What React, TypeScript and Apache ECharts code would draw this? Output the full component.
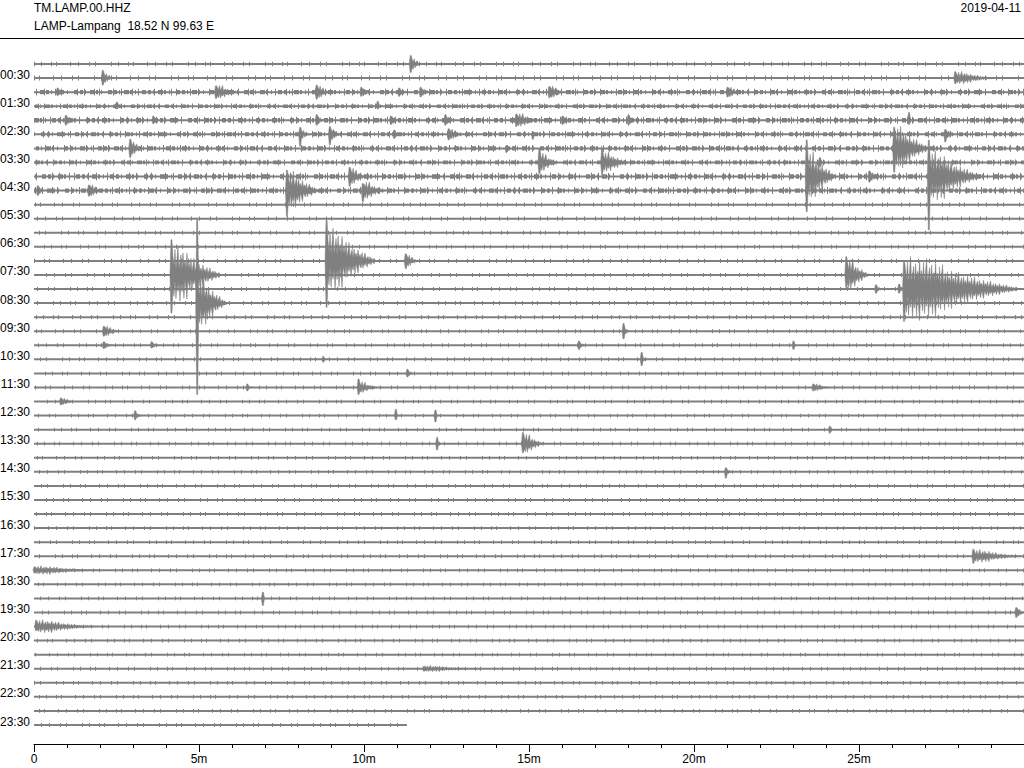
import { useEffect, useRef } from 'react';
import * as echarts from 'echarts';

// ---- Texts ----
const stationCode = 'TM.LAMP.00.HHZ';
const stationName = 'LAMP-Lampang  18.52 N 99.63 E';
const dayLabel = '2019-04-11';

// ---- Axes ----
const totalMinutes = 30;
const xTickStep = 5;
const lastRowEnd = 11.3; // the 23:30 trace stops here (minutes)
const hourLabels = [
  '00:30', '01:30', '02:30', '03:30', '04:30', '05:30', '06:30', '07:30',
  '08:30', '09:30', '10:30', '11:30', '12:30', '13:30', '14:30', '15:30',
  '16:30', '17:30', '18:30', '19:30', '20:30', '21:30', '22:30', '23:30',
];

// ---- Background noise level of each 30-minute row (in row-spacing units) ----
const rowNoise = [
  0.17, 0.2, 0.26, 0.22, 0.28, 0.26, 0.27, 0.24, 0.3, 0.28,
  0.17, 0.17, 0.16, 0.16, 0.17, 0.16, 0.16, 0.16, 0.16, 0.16,
  0.16, 0.16, 0.16, 0.16, 0.15, 0.15, 0.15, 0.15, 0.15, 0.15,
  0.15, 0.15, 0.16, 0.15, 0.15, 0.15, 0.15, 0.15, 0.15, 0.15,
  0.15, 0.15, 0.15, 0.16, 0.15, 0.15, 0.15, 0.15,
];

// ---- Events: [row, start (min), duration (min), spike up, spike down, body amplitude] ----
const events: number[][] = [
  [0, 11.4, 0.35, 0.6, 0.6, 0.35],
  [1, 2.07, 0.35, 0.55, 0.5, 0.3],
  [1, 27.9, 1.2, 0.45, 0.4, 0.3],
  [2, 0.7, 0.25, 0.3, 0.25, 0.2],
  [2, 5.5, 0.7, 0.45, 0.45, 0.35],
  [2, 8.55, 0.45, 0.5, 0.5, 0.35],
  [2, 9.9, 0.3, 0.35, 0.3, 0.25],
  [2, 11.05, 0.25, 0.3, 0.3, 0.2],
  [2, 11.7, 0.3, 0.35, 0.35, 0.25],
  [2, 15.6, 0.45, 0.4, 0.4, 0.35],
  [2, 21.0, 0.4, 0.35, 0.35, 0.3],
  [3, 2.5, 0.15, 0.3, 0.2, 0.15],
  [3, 10.4, 0.15, 0.35, 0.2, 0.15],
  [4, 0.95, 0.3, 0.35, 0.35, 0.25],
  [4, 3.6, 0.2, 0.3, 0.25, 0.2],
  [4, 8.55, 0.25, 0.4, 0.35, 0.25],
  [4, 10.8, 0.25, 0.3, 0.3, 0.25],
  [4, 12.45, 0.3, 0.4, 0.35, 0.25],
  [4, 14.6, 0.7, 0.45, 0.45, 0.35],
  [4, 16.0, 0.25, 0.3, 0.3, 0.25],
  [4, 18.0, 0.25, 0.4, 0.35, 0.25],
  [4, 26.5, 0.1, 0.55, 0.3, 0.2],
  [5, 8.05, 0.3, 0.5, 0.85, 0.3],
  [5, 8.95, 0.35, 0.55, 0.75, 0.35],
  [5, 10.9, 0.2, 0.3, 0.3, 0.2],
  [5, 12.55, 0.45, 0.4, 0.4, 0.3],
  [5, 15.1, 0.1, 0.2, 0.35, 0.15],
  [5, 27.6, 0.3, 0.35, 0.55, 0.25],
  [6, 2.9, 0.4, 0.65, 0.65, 0.4],
  [6, 14.3, 0.1, 0.2, 0.3, 0.15],
  [6, 26.05, 1.1, 1.5, 1.7, 1.0],
  [7, 15.3, 0.55, 0.95, 0.8, 0.5],
  [7, 17.2, 0.85, 0.95, 0.85, 0.5],
  [7, 23.8, 0.15, 0.35, 0.35, 0.2],
  [8, 9.55, 0.5, 0.65, 0.7, 0.45],
  [8, 23.4, 0.9, 2.6, 2.5, 1.15],
  [8, 25.3, 0.3, 0.4, 0.4, 0.3],
  [8, 27.1, 1.6, 2.6, 3.8, 1.15],
  [9, 0.1, 0.2, 0.35, 0.35, 0.3],
  [9, 1.65, 0.4, 0.4, 0.4, 0.35],
  [9, 7.65, 1.0, 1.45, 1.85, 0.9],
  [9, 9.95, 0.7, 0.5, 0.8, 0.45],
  [14, 8.85, 1.5, 2.9, 3.3, 1.45],
  [14, 11.25, 0.4, 0.5, 0.55, 0.35],
  [15, 4.15, 1.5, 2.5, 2.7, 1.3],
  [15, 24.6, 0.7, 1.3, 0.9, 0.8],
  [16, 25.5, 0.2, 0.3, 0.3, 0.2],
  [16, 26.2, 0.15, 0.35, 0.3, 0.2],
  [16, 26.35, 3.4, 2.0, 2.3, 1.4],
  [17, 4.93, 0.9, 5.9, 6.5, 1.2],
  [19, 2.1, 0.45, 0.35, 0.35, 0.3],
  [19, 17.85, 0.2, 0.55, 0.55, 0.25],
  [20, 2.1, 0.25, 0.25, 0.25, 0.2],
  [20, 3.55, 0.2, 0.25, 0.2, 0.2],
  [20, 16.5, 0.2, 0.3, 0.3, 0.2],
  [20, 23.0, 0.1, 0.3, 0.3, 0.15],
  [21, 8.75, 0.1, 0.2, 0.2, 0.15],
  [21, 18.4, 0.15, 0.5, 0.45, 0.2],
  [22, 11.3, 0.2, 0.3, 0.25, 0.2],
  [23, 6.45, 0.15, 0.25, 0.25, 0.15],
  [23, 9.82, 0.6, 0.6, 0.5, 0.3],
  [23, 23.6, 0.5, 0.25, 0.25, 0.2],
  [24, 0.8, 0.4, 0.25, 0.25, 0.2],
  [25, 3.05, 0.2, 0.35, 0.3, 0.2],
  [25, 10.95, 0.1, 0.45, 0.3, 0.15],
  [25, 12.15, 0.1, 0.4, 0.45, 0.15],
  [26, 24.1, 0.1, 0.25, 0.25, 0.15],
  [27, 12.2, 0.1, 0.45, 0.45, 0.15],
  [27, 14.8, 0.65, 0.8, 0.65, 0.5],
  [29, 20.95, 0.2, 0.3, 0.45, 0.2],
  [35, 28.45, 1.45, 0.5, 0.5, 0.3],
  [36, 0.0, 1.9, 0.25, 0.2, 0.2],
  [38, 6.92, 0.1, 0.45, 0.5, 0.15],
  [39, 29.75, 0.25, 0.35, 0.35, 0.3],
  [40, 0.05, 1.8, 0.45, 0.3, 0.3],
  [43, 11.8, 1.6, 0.18, 0.18, 0.15],
];

// ---- Styling ----
const traceColor = '#808080';
const fontFamily = '"Liberation Sans", Arial, sans-serif';
const envShape = [[0, 1], [0.25, 0.9], [0.45, 0.55], [0.7, 0.3], [1, 0.06]];
const jag = [1, 0.5, 1.45, 0.35, 0.9, 1.7, 0.4, 0.75, 1.2, 0.3, 1.35, 0.6, 0.95, 0.45, 1.55, 0.55];
const speckDash = [1, 6, 1, 9, 1, 4, 1, 13, 1, 7, 1, 10, 1, 5, 1, 15];
const bandDash = [3, 2, 1, 4, 5, 1, 2, 3, 1, 6, 4, 2];

function envAt(u: number) {
  for (let i = 1; i < envShape.length; i++) {
    const [u1, v1] = envShape[i];
    const [u0, v0] = envShape[i - 1];
    if (u <= u1) return v0 + ((u - u0) / (u1 - u0)) * (v1 - v0);
  }
  return envShape[envShape.length - 1][1];
}

export default function App() {
  const ref = useRef<HTMLDivElement>(null);

  useEffect(() => {
    if (!ref.current) return;
    const chart = echarts.init(ref.current, undefined, { renderer: 'svg' });

    const rowCount = rowNoise.length;
    const rowTop = 64;
    const rowBottom = 725;
    const gridTop = 39;
    const gridBottom = 744;
    const spacing = (rowBottom - rowTop) / (rowCount - 1);
    const yMin = -(rowTop - gridTop) / spacing;
    const yMax = rowCount - 1 + (gridBottom - rowBottom) / spacing;
    const labelLift = 3.5 / spacing;

    const baseData = rowNoise.map((n, i) => [i, i === rowCount - 1 ? lastRowEnd : totalMinutes, n]);
    const labelValues = hourLabels.map((_, k) => 2 * k + 1 - labelLift);

    const option: any = {
      animation: false,
      backgroundColor: '#fff',
      grid: { left: 34, right: 0, top: gridTop, height: gridBottom - gridTop, outerBoundsMode: 'none', containLabel: false },
      xAxis: {
        type: 'value',
        min: 0,
        max: totalMinutes,
        interval: xTickStep,
        position: 'bottom',
        axisLine: { show: true, onZero: false, lineStyle: { color: '#000', width: 1 } },
        axisTick: { show: true, inside: false, length: 8, lineStyle: { color: '#000', width: 1 } },
        minorTick: { show: true, splitNumber: 5, length: 4, lineStyle: { color: '#000', width: 1 } },
        splitLine: { show: false },
        axisLabel: {
          color: '#000',
          fontSize: 12,
          fontFamily,
          margin: 9,
          showMaxLabel: false,
          formatter: (v: number) => (v === 0 ? '0' : `${v}m`),
        },
      },
      yAxis: {
        type: 'value',
        inverse: true,
        min: yMin,
        max: yMax,
        axisLine: { show: false },
        axisTick: { show: false },
        splitLine: { show: false },
        axisLabel: {
          show: true,
          customValues: labelValues,
          color: '#000',
          fontSize: 12,
          fontFamily,
          margin: 4,
          formatter: (v: number) => hourLabels[(Math.round(v) - 1) / 2] ?? '',
        },
      },
      graphic: [
        { type: 'text', x: 34, y: 8, style: { text: stationCode, fontSize: 12, fontFamily, fill: '#000', align: 'left', verticalAlign: 'middle' } },
        { type: 'text', x: 34, y: 26, style: { text: stationName, fontSize: 12, fontFamily, fill: '#000', align: 'left', verticalAlign: 'middle' } },
        { type: 'text', x: 1021, y: 8, style: { text: dayLabel, fontSize: 12, fontFamily, fill: '#000', align: 'right', verticalAlign: 'middle' } },
        { type: 'line', shape: { x1: 0, y1: 38.5, x2: 1024, y2: 38.5 }, style: { stroke: '#000', lineWidth: 1 } },
      ],
      series: [
        {
          type: 'custom',
          name: 'traces',
          coordinateSystem: 'cartesian2d',
          silent: true,
          data: baseData,
          renderItem: (_p: any, api: any) => {
            const row = api.value(0);
            const end = api.value(1);
            const noise = api.value(2);
            const a = api.coord([0, row]);
            const b = api.coord([end, row]);
            const np = Math.abs(api.size([0, noise])[1]);
            const shape = { x1: a[0], y1: a[1], x2: b[0], y2: b[1] };
            const children: any[] = [
              { type: 'line', shape, style: { stroke: traceColor, lineWidth: 2 } },
              { type: 'line', shape, style: { stroke: traceColor, lineWidth: np * 1.8, lineDash: speckDash, lineDashOffset: row * 17 } },
            ];
            if (noise > 0.2) {
              children.push({ type: 'line', shape, style: { stroke: traceColor, lineWidth: np * 1.1, lineDash: bandDash, lineDashOffset: row * 11 } });
            }
            return { type: 'group', children };
          },
        },
        {
          type: 'custom',
          name: 'events',
          coordinateSystem: 'cartesian2d',
          silent: true,
          data: events,
          renderItem: (_p: any, api: any) => {
            const row = api.value(0);
            const s = api.value(1);
            const d = api.value(2);
            const up = api.value(3);
            const dn = api.value(4);
            const body = api.value(5);
            const pxPerMin = Math.abs(api.size([1, 0])[0]);
            const st = 1 / pxPerMin;
            const P = (t: number, amp: number) => api.coord([t, row + amp]);
            const top: number[][] = [P(s - st, 0), P(s, -up), P(s + st, -up)];
            const bot: number[][] = [P(s, dn), P(s + st, dn)];
            let k = 0;
            for (let t = s + 2 * st; t <= s + d; t += st, k++) {
              const e = body * envAt((t - s) / d);
              top.push(P(t, -e * jag[k % jag.length]));
              bot.push(P(t, e * jag[(k + 7) % jag.length]));
            }
            const endPt = P(s + d + st, 0);
            const points = [...top, endPt, ...bot.reverse()];
            return { type: 'polygon', shape: { points }, style: { fill: traceColor, stroke: traceColor, lineWidth: 0.5 } };
          },
        },
      ],
    };

    chart.setOption(option);
    return () => chart.dispose();
  }, []);

  return (
    <div
      ref={ref}
      style={{ position: 'absolute', left: 0, top: 0, width: 1024, height: 768, background: '#fff' }}
    />
  );
}
